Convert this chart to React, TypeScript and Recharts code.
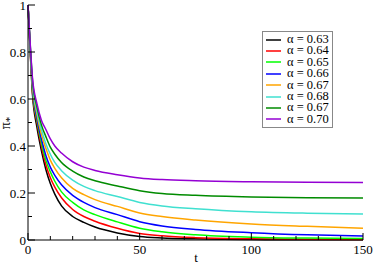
import React from "react";
import { LineChart, Line, XAxis, YAxis, Legend } from "recharts";

const tValues = [0, 1, 2, 4, 6, 8, 10, 12, 15, 20, 25, 30, 40, 50, 60, 75, 100, 125, 150];

const s063 = [1, 0.8, 0.62, 0.48, 0.38, 0.3, 0.24, 0.195, 0.145, 0.1, 0.075, 0.055, 0.03, 0.015, 0.009, 0.005, 0.002, 0.001, 0.001];
const s064 = [1, 0.805, 0.63, 0.5, 0.4, 0.32, 0.265, 0.225, 0.18, 0.13, 0.1, 0.08, 0.05, 0.028, 0.018, 0.01, 0.005, 0.003, 0.002];
const s065 = [1, 0.81, 0.64, 0.51, 0.415, 0.34, 0.29, 0.25, 0.205, 0.16, 0.128, 0.108, 0.077, 0.05, 0.035, 0.022, 0.012, 0.008, 0.006];
const s066 = [1, 0.815, 0.65, 0.52, 0.43, 0.36, 0.31, 0.275, 0.235, 0.19, 0.16, 0.138, 0.108, 0.078, 0.06, 0.045, 0.031, 0.022, 0.017];
const s067 = [1, 0.82, 0.66, 0.535, 0.45, 0.39, 0.34, 0.305, 0.265, 0.22, 0.193, 0.172, 0.143, 0.115, 0.1, 0.085, 0.068, 0.058, 0.05];
const s068 = [1, 0.825, 0.67, 0.55, 0.47, 0.41, 0.365, 0.33, 0.295, 0.255, 0.228, 0.21, 0.185, 0.16, 0.145, 0.133, 0.12, 0.114, 0.111];
const s067b = [1, 0.83, 0.68, 0.565, 0.49, 0.44, 0.395, 0.365, 0.33, 0.293, 0.268, 0.252, 0.23, 0.21, 0.198, 0.19, 0.183, 0.18, 0.179];
const s070 = [1, 0.835, 0.69, 0.58, 0.51, 0.47, 0.43, 0.4, 0.37, 0.333, 0.31, 0.296, 0.278, 0.264, 0.257, 0.252, 0.248, 0.246, 0.245];

const seriesLabels = ["α = 0.63", "α = 0.64", "α = 0.65", "α = 0.66", "α = 0.67", "α = 0.68", "α = 0.67", "α = 0.70"];
const seriesColors = ["#000000", "#ff0000", "#00ff00", "#0000ff", "#ffa500", "#40e0d0", "#008b00", "#9400d3"];
const seriesValues = [s063, s064, s065, s066, s067, s068, s067b, s070];

const xTicks = [0, 10, 20, 30, 40, 50, 60, 70, 80, 90, 100, 110, 120, 130, 140, 150];
const yTicks = [0, 0.1, 0.2, 0.3, 0.4, 0.5, 0.6, 0.7, 0.8, 0.9, 1];

const data = tValues.map((t, i) => {
  const row: Record<string, number> = { t };
  seriesValues.forEach((arr, k) => {
    row["s" + k] = arr[i];
  });
  return row;
});

const FONT = '"Liberation Serif", "Times New Roman", Times, serif';

const BottomTick = (props: any) => {
  const { x, y, payload } = props;
  const v = payload.value;
  const major = v % 50 === 0;
  return (
    <g>
      <line x1={x} x2={x} y1={y} y2={y - (major ? 7 : 4)} stroke="#000" strokeWidth={1} />
      {major && (
        <text x={x} y={y + 14} textAnchor="middle" fontFamily={FONT} fontSize={13} fill="#000">
          {v}
        </text>
      )}
    </g>
  );
};

const TopTick = (props: any) => {
  const { x, y, payload } = props;
  const v = payload.value;
  const major = v % 50 === 0;
  return <line x1={x} x2={x} y1={y} y2={y + (major ? 7 : 4)} stroke="#000" strokeWidth={1} />;
};

const LeftTick = (props: any) => {
  const { x, y, payload } = props;
  const v = payload.value;
  const k = Math.round(v * 10);
  const major = k % 2 === 0;
  const label = k === 0 ? "0" : k === 10 ? "1" : (k / 10).toFixed(1);
  return (
    <g>
      <line x1={x} x2={x + (major ? 7 : 4)} y1={y} y2={y} stroke="#000" strokeWidth={1} />
      {major && (
        <text x={x - 2} y={y + 4.5} textAnchor="end" fontFamily={FONT} fontSize={13} fill="#000">
          {label}
        </text>
      )}
    </g>
  );
};

const RightTick = (props: any) => {
  const { x, y, payload } = props;
  const k = Math.round(payload.value * 10);
  const major = k % 2 === 0;
  return <line x1={x} x2={x - (major ? 7 : 4)} y1={y} y2={y} stroke="#000" strokeWidth={1} />;
};

const LegendBox = () => (
  <div
    style={{
      border: "1px solid #888",
      background: "#fff",
      padding: "2px 3px 2px 2px",
      fontFamily: FONT,
      fontSize: 12.5,
      lineHeight: "11.4px",
    }}
  >
    {seriesLabels.map((lab, i) => (
      <div key={i} style={{ display: "flex", alignItems: "center", height: 11.4, whiteSpace: "nowrap" }}>
        <svg width={22} height={6} style={{ display: "block" }}>
          <line x1={1} x2={16} y1={3} y2={3} stroke={seriesColors[i]} strokeWidth={1.5} />
        </svg>
        <span>{lab}</span>
      </div>
    ))}
  </div>
);

const YLabel = () => (
  <text
    x={10}
    y={123}
    transform="rotate(-90, 10, 123)"
    textAnchor="middle"
    fontFamily={FONT}
    fontSize={14}
    fill="#000"
  >
    π<tspan dy={3} fontSize={11}>*</tspan>
  </text>
);

const XLabel = () => (
  <text x={196} y={262} textAnchor="middle" fontFamily={FONT} fontSize={13} fill="#000">
    t
  </text>
);

export default function App() {
  return (
    <div style={{ position: "absolute", left: 0, top: 0, width: 374, height: 265, background: "#fff", fontFamily: FONT }}>
      <LineChart width={374} height={265} data={data} margin={{ top: 5, right: 11, bottom: 0, left: 0 }}>
        <XAxis
          xAxisId="b"
          dataKey="t"
          type="number"
          domain={[0, 150]}
          ticks={xTicks}
          interval={0}
          height={25}
          tickSize={0}
          tickMargin={0}
          tickLine={false}
          axisLine={{ stroke: "#000", strokeWidth: 1 }}
          tick={<BottomTick />}
          label={{ content: () => <XLabel /> }}
        />
        <XAxis
          xAxisId="top"
          orientation="top"
          dataKey="t"
          type="number"
          domain={[0, 150]}
          ticks={xTicks}
          interval={0}
          height={0}
          tickSize={0}
          tickMargin={0}
          tickLine={false}
          axisLine={{ stroke: "#000", strokeWidth: 1 }}
          tick={<TopTick />}
        />
        <YAxis
          yAxisId="l"
          type="number"
          domain={[0, 1]}
          ticks={yTicks}
          interval={0}
          width={28}
          tickSize={0}
          tickMargin={0}
          tickLine={false}
          axisLine={{ stroke: "#000", strokeWidth: 1 }}
          tick={<LeftTick />}
          label={{ content: () => <YLabel /> }}
        />
        <YAxis
          yAxisId="r"
          orientation="right"
          type="number"
          domain={[0, 1]}
          ticks={yTicks}
          interval={0}
          width={0}
          tickSize={0}
          tickMargin={0}
          tickLine={false}
          axisLine={{ stroke: "#000", strokeWidth: 1 }}
          tick={<RightTick />}
        />
        <Legend
          content={() => <LegendBox />}
          layout="vertical"
          verticalAlign="middle"
          align="center"
          wrapperStyle={{ position: "absolute", left: 262, top: 31, width: "auto" }}
        />
        {seriesValues.map((_, k) => (
          <Line
            key={k}
            xAxisId="b"
            yAxisId="l"
            dataKey={"s" + k}
            type="monotone"
            stroke={seriesColors[k]}
            strokeWidth={1.5}
            dot={false}
            isAnimationActive={false}
          />
        ))}
      </LineChart>
    </div>
  );
}
